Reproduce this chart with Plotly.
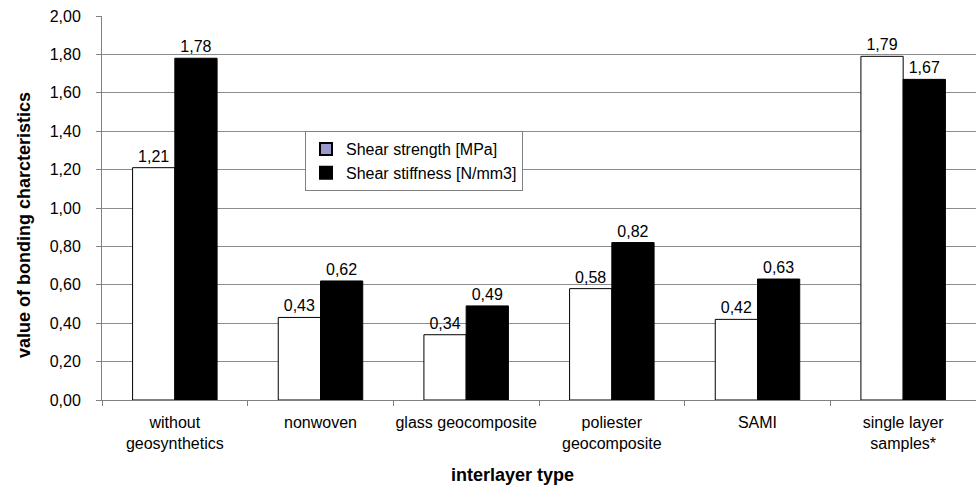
import plotly.graph_objects as go

categories = ["without<br>geosynthetics", "nonwoven", "glass geocomposite",
              "poliester<br>geocomposite", "SAMI", "single layer<br>samples*"]
shear_strength = [1.21, 0.43, 0.34, 0.58, 0.42, 1.79]
shear_stiffness = [1.78, 0.62, 0.49, 0.82, 0.63, 1.67]
y_ticks = [0, 0.2, 0.4, 0.6, 0.8, 1.0, 1.2, 1.4, 1.6, 1.8, 2.0]

font = "Liberation Sans, Arial, sans-serif"
L, R, T, B = 102, 0, 16, 89
W, H = 976, 489
pw, ph = W - L - R, H - T - B

fig = go.Figure()
fig.add_trace(go.Bar(
    x=categories, y=shear_strength, name="Shear strength [MPa]",
    marker=dict(color="white", line=dict(color="black", width=1)),
    text=[f"{v:.2f}".replace(".", ",") for v in shear_strength],
    textposition="outside", textfont=dict(size=16, color="black"),
    cliponaxis=False, showlegend=False))
fig.add_trace(go.Bar(
    x=categories, y=shear_stiffness, name="Shear stiffness [N/mm3]",
    marker=dict(color="black", line=dict(color="black", width=1)),
    text=[f"{v:.2f}".replace(".", ",") for v in shear_stiffness],
    textposition="outside", textfont=dict(size=16, color="black"),
    cliponaxis=False, showlegend=False))
# legend entries
fig.add_trace(go.Scatter(x=[None], y=[None], mode="markers", name="Shear strength [MPa]",
                         marker=dict(symbol="square", size=9, color="#9999CC",
                                     line=dict(color="black", width=1))))
fig.add_trace(go.Scatter(x=[None], y=[None], mode="markers", name="Shear stiffness [N/mm3]",
                         marker=dict(symbol="square", size=9, color="black",
                                     line=dict(color="black", width=1))))

fig.update_layout(
    width=W, height=H,
    margin=dict(l=L, r=R, t=T, b=B, autoexpand=False),
    paper_bgcolor="white", plot_bgcolor="white",
    font=dict(family=font, size=16, color="black"),
    barmode="group", bargap=0.42, bargroupgap=0,
    separators=",.",
    legend=dict(x=(305 - L) / pw, y=(H - B - 131) / ph, xanchor="left", yanchor="top",
                bgcolor="white", bordercolor="#808080", borderwidth=1,
                font=dict(size=16), tracegroupgap=0, itemwidth=30,
                itemsizing="constant"),
    xaxis=dict(showline=True, linecolor="#808080", linewidth=1,
               ticks="outside", tickcolor="#808080", ticklen=5,
               tickson="boundaries", tickfont=dict(size=16),
               tickangle=0, automargin=False, ticklabelstandoff=8),
    yaxis=dict(range=[0, 2.0], tickvals=y_ticks, tickformat=".2f",
               showline=True, linecolor="#808080", linewidth=1,
               ticks="outside", tickcolor="#808080", ticklen=5,
               showgrid=True, gridcolor="#8c8c8c", gridwidth=1,
               zeroline=False, tickfont=dict(size=16), ticklabelstandoff=12,
               automargin=False),
    annotations=[
        dict(text="<b>interlayer type</b>", xref="paper", yref="paper",
             x=(512 - L) / pw, y=-(475 - (H - B)) / ph, xanchor="center", yanchor="middle",
             showarrow=False, font=dict(size=18)),
        dict(text="<b>value of bonding charcteristics</b>", xref="paper", yref="paper",
             x=(24 - L) / pw, y=(H - B - 225) / ph, xanchor="center", yanchor="middle",
             textangle=-90, showarrow=False, font=dict(size=18)),
    ],
)

fig.write_html("out.html")
